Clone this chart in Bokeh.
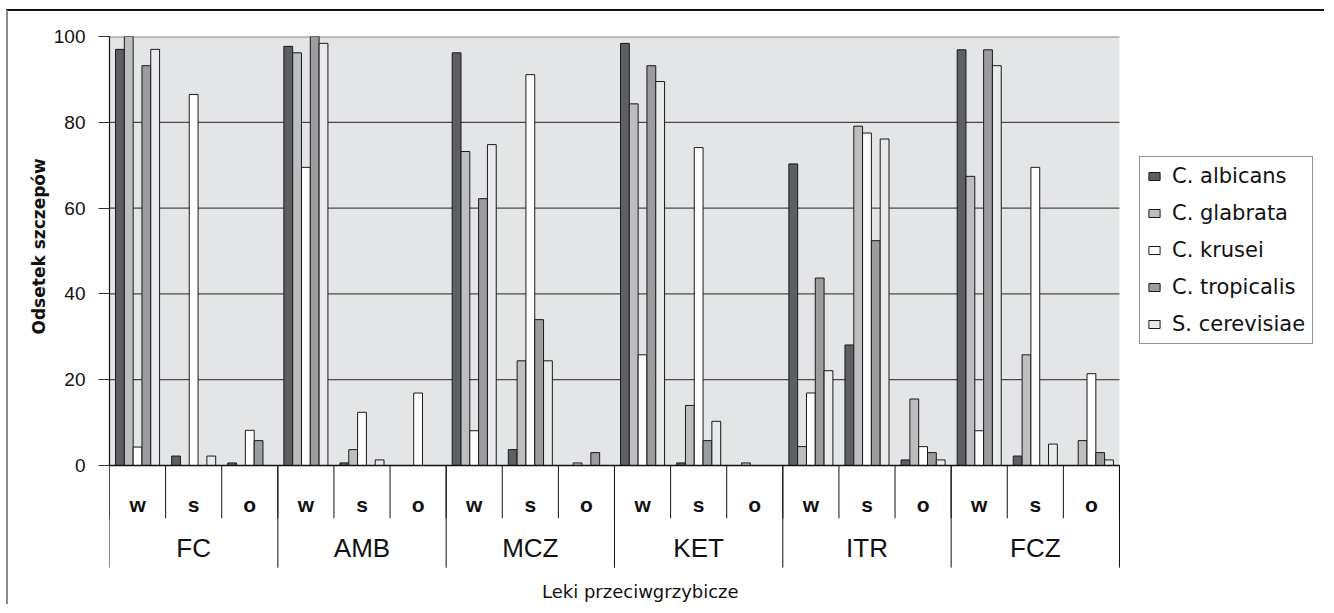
import numpy as np
from bokeh.plotting import figure
from bokeh.models import Range1d, FixedTicker, Legend, LegendItem, Title
from bokeh.core.properties import value
from bokeh.embed import file_html
from bokeh.resources import INLINE

# ---- data ----
drugs = ["FC", "AMB", "MCZ", "KET", "ITR", "FCZ"]
subcats = ["w", "s", "o"]
species = ["C. albicans", "C. glabrata", "C. krusei", "C. tropicalis", "S. cerevisiae"]

albicans = [97.0, 2.2, 0.6, 97.7, 0.6, 0.0, 96.2, 3.7, 0.0, 98.4, 0.6, 0.0, 70.3, 28.1, 1.3, 96.9, 2.2, 0.0]
glabrata = [100.0, 0.0, 0.0, 96.2, 3.7, 0.0, 73.2, 24.4, 0.6, 84.3, 14.0, 0.6, 4.4, 79.1, 15.5, 67.4, 25.8, 5.8]
krusei = [4.3, 86.5, 8.2, 69.5, 12.4, 16.9, 8.1, 91.1, 0.0, 25.8, 74.1, 0.0, 16.9, 77.5, 4.4, 8.1, 69.5, 21.4]
tropicalis = [93.2, 0.0, 5.8, 100.0, 0.0, 0.0, 62.2, 34.0, 3.0, 93.2, 5.8, 0.0, 43.7, 52.4, 3.0, 96.9, 0.0, 3.0]
cerevisiae = [97.0, 2.2, 0.0, 98.4, 1.3, 0.0, 74.8, 24.4, 0.0, 89.5, 10.3, 0.0, 22.1, 76.1, 1.3, 93.2, 5.0, 1.3]

y_ticks = [0, 20, 40, 60, 80, 100]
y_label = "Odsetek szczepów"
x_label = "Leki przeciwgrzybicze"

series = [albicans, glabrata, krusei, tropicalis, cerevisiae]
colors = ["#5e5f62", "#bdbec0", "#ffffff", "#9b9c9e", "#e9eaec"]

n_cells = len(drugs) * len(subcats)
bar_w = 0.157
offsets = [(i - 2) * bar_w for i in range(len(species))]

px_per_x = 56.11
px_per_y = 4.29
W, H = 1318, 595
ML, MT = 101, 25
frame_w = W - ML
frame_h = H - MT

p = figure(width=W, height=H, output_backend="svg", toolbar_location=None,
           x_range=Range1d(0, frame_w / px_per_x),
           y_range=Range1d(100 - frame_h / px_per_y, 100),
           x_axis_location=None,
           min_border_left=ML, min_border_right=0, min_border_top=MT, min_border_bottom=0)
p.styles = {"margin-left": "6px", "margin-top": "9px",
            "border-top": "2px solid #111", "border-left": "2px solid #8c8c8c"}
p.outline_line_color = None
p.grid.visible = False
p.background_fill_color = "white"
p.border_fill_color = "white"

# plot area background
p.quad(left=[0], right=[n_cells], bottom=[0], top=[100], fill_color="#e4e5e7", line_color=None)

# gridlines
grid_y = [t for t in y_ticks if 0 < t < 100]
p.segment(x0=[0] * len(grid_y), x1=[n_cells] * len(grid_y), y0=grid_y, y1=grid_y,
          line_color="#4a4a4a", line_width=1.2)
p.segment(x0=[0], x1=[n_cells], y0=[100], y1=[100], line_color="#8a8a8a", line_width=2)

# bars
cell_centers = np.arange(n_cells) + 0.5
items = []
for name, vals, col, off in zip(species, series, colors, offsets):
    r = p.vbar(x=cell_centers + off, top=vals, bottom=0, width=bar_w,
               fill_color=col, line_color="#1a1a1a", line_width=1)
    items.append(LegendItem(label=name, renderers=[r]))

# baseline
p.segment(x0=[0], x1=[n_cells], y0=[0], y1=[0], line_color="#111", line_width=1.3)

# category axis (two levels)
sub_sep_x = list(range(n_cells + 1))
p.segment(x0=sub_sep_x, x1=sub_sep_x, y0=[0] * len(sub_sep_x), y1=[-12.3] * len(sub_sep_x),
          line_color="#111", line_width=1)
grp_sep_x = list(range(0, n_cells + 1, len(subcats)))
p.segment(x0=grp_sep_x, x1=grp_sep_x, y0=[0] * len(grp_sep_x), y1=[-23.8] * len(grp_sep_x),
          line_color="#111", line_width=1)

sub_labels = subcats * len(drugs)
p.text(x=cell_centers, y=[-9.1] * n_cells, text=sub_labels,
       text_font=value("Liberation Sans"), text_font_style="bold",
       text_font_size="21px", text_color="#111",
       text_align="center", text_baseline="middle")
grp_centers = np.arange(len(drugs)) * len(subcats) + len(subcats) / 2
p.text(x=grp_centers, y=[-19.2] * len(drugs), text=drugs,
       text_font=value("Liberation Sans"), text_font_size="26px", text_color="#111",
       text_align="center", text_baseline="middle")
p.text(x=[9.46], y=[-29.3], text=[x_label],
       text_font=value("DejaVu Sans"), text_font_size="18px", text_color="#111",
       text_align="center", text_baseline="middle")

# y axis
ax = p.yaxis[0]
ax.bounds = (0, 100)
ax.ticker = FixedTicker(ticks=y_ticks)
ax.minor_tick_line_color = None
ax.major_tick_in = 0
ax.major_tick_out = 11
ax.major_tick_line_color = "#333"
ax.axis_line_color = "#111"
ax.axis_line_width = 1.2
ax.major_label_standoff = 13
ax.major_label_text_font = "Liberation Sans"
ax.major_label_text_font_size = "19px"
ax.major_label_text_color = "#111"

ylab = Title(text=y_label, align="left", offset=272, standoff=4,
             text_font="DejaVu Sans", text_font_style="bold",
             text_font_size="17px", text_color="#111")
p.add_layout(ylab, "left")

# legend
legend = Legend(items=items, location=(1030, 262))
legend.border_line_color = "#222"
legend.border_line_width = 1
legend.background_fill_color = "white"
legend.background_fill_alpha = 1
legend.label_text_font = "DejaVu Sans"
legend.label_text_font_size = "21px"
legend.label_text_color = "#111"
legend.glyph_width = 14
legend.glyph_height = 10
legend.label_standoff = 11
legend.label_height = 20
legend.padding = 7
legend.spacing = 13
legend.margin = 0
p.add_layout(legend)

open("out.html", "w").write(file_html(p, INLINE))
